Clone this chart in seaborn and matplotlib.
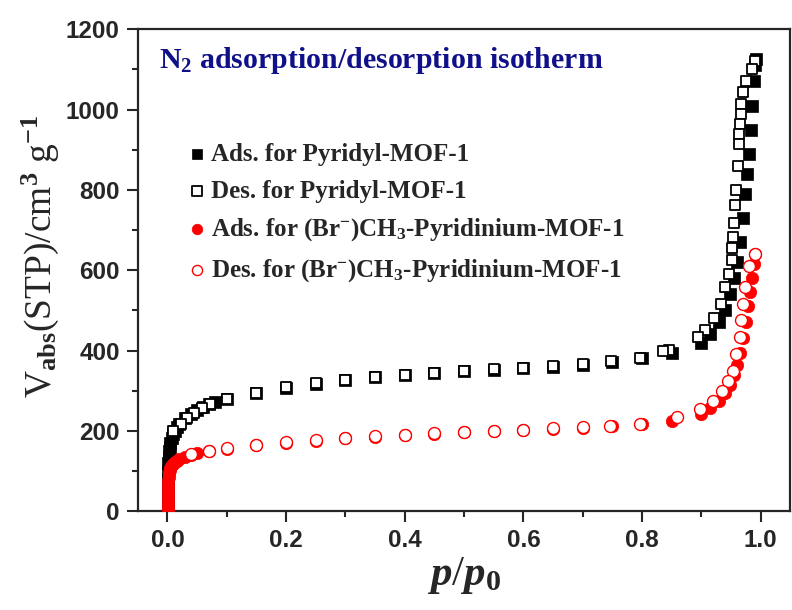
import numpy as np
import pandas as pd
import matplotlib
matplotlib.use("Agg")
import matplotlib.pyplot as plt
import seaborn as sns

# Pyridyl-MOF-1, adsorption
pyr_ads_p = [0.0001, 0.0002, 0.0003, 0.0005, 0.0007, 0.001, 0.0015, 0.002, 0.003, 0.004,
             0.005, 0.007, 0.009, 0.012, 0.016, 0.02, 0.03, 0.04, 0.05, 0.06, 0.07, 0.08,
             0.1, 0.15, 0.2, 0.25, 0.3, 0.35, 0.4, 0.45, 0.5, 0.55, 0.6, 0.65, 0.7, 0.75,
             0.8, 0.85, 0.9, 0.915, 0.93, 0.94, 0.948, 0.955, 0.96, 0.965, 0.97, 0.974,
             0.977, 0.98, 0.983, 0.986, 0.989, 0.991, 0.992]
pyr_ads_v = [10, 25, 40, 60, 80, 100, 120, 135, 150, 160,
             170, 182, 192, 200, 210, 218, 232, 243, 252, 260, 266, 271,
             279, 294, 307, 317, 326, 333, 339, 344, 348, 352, 356, 360, 365, 372,
             381, 394, 418, 440, 470, 500, 540, 580, 620, 670, 730, 790,
             840, 890, 950, 1010, 1070, 1110, 1125]

# Pyridyl-MOF-1, desorption
pyr_des_p = [0.99, 0.985, 0.975, 0.97, 0.967, 0.966, 0.965, 0.964, 0.963, 0.961, 0.959,
             0.957, 0.955, 0.953, 0.952, 0.951, 0.947, 0.939, 0.933, 0.922, 0.906, 0.894,
             0.845, 0.835, 0.797, 0.748, 0.7, 0.65, 0.6, 0.55, 0.5, 0.45, 0.4, 0.35, 0.3,
             0.25, 0.2, 0.15, 0.1, 0.072, 0.058, 0.044, 0.033, 0.022, 0.01]
pyr_des_v = [1120, 1100, 1070, 1045, 1015, 990, 965, 940, 915, 860, 800,
             762, 717, 682, 655, 625, 590, 557, 517, 480, 450, 433,
             402, 398, 381, 375, 366, 361, 357, 353, 349, 345, 340, 334, 327,
             318, 308, 295, 279, 267, 257, 245, 232, 217, 200]

# (Br-)CH3-Pyridinium-MOF-1, adsorption
brc_ads_p = [0.0001, 0.0002, 0.0003, 0.0005, 0.0007, 0.001, 0.0015, 0.002, 0.003, 0.004,
             0.005, 0.007, 0.009, 0.012, 0.016, 0.02, 0.03, 0.04, 0.05, 0.07, 0.1, 0.15,
             0.2, 0.25, 0.3, 0.35, 0.4, 0.45, 0.5, 0.55, 0.6, 0.65, 0.7, 0.75, 0.8, 0.85,
             0.9, 0.915, 0.93, 0.94, 0.948, 0.955, 0.96, 0.965, 0.97, 0.975, 0.979, 0.982,
             0.985, 0.988, 0.99]
brc_ads_v = [5, 15, 25, 38, 50, 62, 75, 85, 95, 102,
             108, 114, 118, 122, 126, 130, 136, 141, 145, 150, 156, 165,
             171, 176, 181, 185, 189, 193, 196, 199, 202, 205, 208, 211, 216, 224,
             243, 258, 275, 295, 315, 340, 365, 395, 430, 470, 510, 545,
             580, 615, 640]

# (Br-)CH3-Pyridinium-MOF-1, desorption
brc_des_p = [0.99, 0.981, 0.973, 0.97, 0.967, 0.965, 0.959, 0.953, 0.945, 0.934, 0.92,
             0.898, 0.858, 0.797, 0.746, 0.7, 0.65, 0.6, 0.55, 0.5, 0.45, 0.4, 0.35, 0.3,
             0.25, 0.2, 0.15, 0.1, 0.07, 0.04]
brc_des_v = [640, 610, 557, 517, 475, 433, 392, 350, 325, 300, 275,
             255, 235, 217, 212, 209, 206, 203, 200, 197, 194, 190, 186, 182,
             177, 172, 166, 157, 151, 142]

x_ticks = [0.0, 0.2, 0.4, 0.6, 0.8, 1.0]
y_ticks = [0, 200, 400, 600, 800, 1000, 1200]

labels = ["Ads. for Pyridyl-MOF-1",
          "Des. for Pyridyl-MOF-1",
          r"Ads. for (Br$^{\mathbf{-}}$)CH$_{\mathbf{3}}$-Pyridinium-MOF-1",
          r"Des. for (Br$^{\mathbf{-}}$)CH$_{\mathbf{3}}$-Pyridinium-MOF-1"]

sns.set_style("ticks")
plt.rcParams["font.family"] = ["Liberation Serif", "DejaVu Serif"]
plt.rcParams["font.weight"] = "bold"
plt.rcParams["mathtext.fontset"] = "custom"
plt.rcParams["mathtext.rm"] = "Liberation Serif:bold"
plt.rcParams["mathtext.bf"] = "Liberation Serif:bold"
plt.rcParams["mathtext.it"] = "Liberation Serif:italic:bold"

fig = plt.figure(figsize=(7.92, 6.10), dpi=100)
ax = fig.add_axes([0.174, 0.162, 0.824, 0.790])

sns.scatterplot(x=pyr_ads_p, y=pyr_ads_v, marker="s", s=66, facecolor="black",
                edgecolor="black", linewidth=0.5, label=labels[0], ax=ax, zorder=2)
sns.scatterplot(x=pyr_des_p, y=pyr_des_v, marker="s", s=60, facecolor="white",
                edgecolor="black", linewidth=1.3, label=labels[1], ax=ax, zorder=3)
sns.scatterplot(x=brc_ads_p, y=brc_ads_v, marker="o", s=80, facecolor="red",
                edgecolor="red", linewidth=0.5, label=labels[2], ax=ax, zorder=4)
sns.scatterplot(x=brc_des_p, y=brc_des_v, marker="o", s=74, facecolor="white",
                edgecolor="red", linewidth=1.0, label=labels[3], ax=ax, zorder=5)

ax.set_xlim(-0.05, 1.05)
ax.set_ylim(0, 1200)
ax.set_xticks(x_ticks)
ax.set_yticks(y_ticks)
ax.set_xticks(np.arange(0.1, 1.0, 0.2), minor=True)
ax.set_yticks(np.arange(100, 1200, 200), minor=True)
ax.set_xticklabels([f"{t:.1f}" for t in x_ticks])
ax.set_yticklabels([str(t) for t in y_ticks])
for lab in ax.get_xticklabels() + ax.get_yticklabels():
    lab.set_fontfamily("Liberation Sans")
    lab.set_fontweight("bold")
    lab.set_fontsize(17.5)

ax.tick_params(which="major", direction="out", length=8, width=1.5, pad=5,
               top=False, right=False)
ax.tick_params(which="minor", direction="out", length=4.5, width=1.5,
               top=False, right=False)
for sp in ax.spines.values():
    sp.set_linewidth(1.6)
    sp.set_visible(True)

ax.set_xlabel(r"$p$/$p_{\mathbf{0}}$", fontsize=31, labelpad=2)
ax.set_ylabel(r"V$_{\mathrm{abs}}$(STP)/cm$^{\mathbf{3}}$ g$^{\mathbf{-1}}$",
              fontsize=27)
ax.yaxis.set_label_coords(-0.118, 0.53)

ax.text(0.032, 0.935, r"N$_{\mathbf{2}}$ adsorption/desorption isotherm",
        transform=ax.transAxes, color="#10108a", fontsize=21.5,
        fontweight="bold", va="center", ha="left")

ax.legend(loc="upper left", bbox_to_anchor=(0.06, 0.785), frameon=False,
          prop={"size": 18, "weight": "bold"}, handletextpad=0.15,
          handlelength=0.8, labelspacing=0.55, markerscale=0.85, borderaxespad=0)

fig.savefig("out.png", dpi=100)
plt.close(fig)
